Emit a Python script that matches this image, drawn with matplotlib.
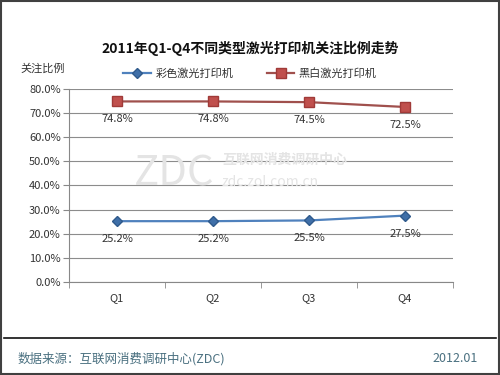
import matplotlib.pyplot as plt
from matplotlib.lines import Line2D
from matplotlib.patches import Rectangle

plt.rcParams['font.family'] = ['Noto Sans CJK SC', 'DejaVu Sans']

quarters = ['Q1', 'Q2', 'Q3', 'Q4']
color_laser = [25.2, 25.2, 25.5, 27.5]
mono_laser = [74.8, 74.8, 74.5, 72.5]
series_names = ['彩色激光打印机', '黑白激光打印机']
yticks = [0, 10, 20, 30, 40, 50, 60, 70, 80]

fig = plt.figure(figsize=(5, 3.75), dpi=100)
ax = fig.add_axes([0.138, 0.248, 0.768, 0.515])

x = range(len(quarters))
ax.plot(x, color_laser, color='#4F81BD', lw=1.6, marker='D', ms=5.5,
        mfc='#3F6FA8', mec='#2F5A8C', label=series_names[0], zorder=3)
ax.plot(x, mono_laser, color='#A0504D', lw=1.6, marker='s', ms=6.5,
        mfc='#C0504D', mec='#A03A38', label=series_names[1], zorder=3)

for xi, v in zip(x, color_laser):
    ax.annotate('%.1f%%' % v, (xi, v), xytext=(0, -13), textcoords='offset points',
                ha='center', va='center', fontsize=8, color='#333333')
for xi, v in zip(x, mono_laser):
    ax.annotate('%.1f%%' % v, (xi, v), xytext=(0, -13), textcoords='offset points',
                ha='center', va='center', fontsize=8, color='#333333')

ax.set_xlim(-0.5, 3.5)
ax.set_ylim(0, 80)
ax.set_yticks(yticks)
ax.set_yticklabels(['%.1f%%' % t for t in yticks], fontsize=8, color='#333333')
ax.set_xticks(list(x))
ax.set_xticklabels(quarters, fontsize=8, color='#333333')
ax.set_xticks([-0.5, 0.5, 1.5, 2.5, 3.5], minor=True)
ax.tick_params(axis='x', which='major', length=0, pad=8)
ax.tick_params(axis='x', which='minor', length=4, color='#888888', direction='out')
ax.tick_params(axis='y', length=4, color='#888888', pad=2)
ax.grid(axis='y', color='#8C8C8C', lw=0.8)
ax.set_axisbelow(True)
for s in ['top', 'right']:
    ax.spines[s].set_visible(False)
for s in ['left', 'bottom']:
    ax.spines[s].set_color('#888888')

# watermark
fig.text(0.268, 0.535, 'ZDC', fontsize=30, color='#E4E4E4', ha='left', va='center',
         fontweight='light', zorder=0)
fig.text(0.444, 0.573, '互联网消费调研中心', fontsize=10, color='#E4E4E4', ha='left', va='center',
         fontweight='bold', zorder=0)
fig.text(0.444, 0.515, 'zdc.zol.com.cn', fontsize=10, color='#E4E4E4', ha='left', va='center',
         zorder=0)

fig.text(0.5, 0.872, '2011年Q1-Q4不同类型激光打印机关注比例走势', ha='center', va='center',
         fontsize=10, fontweight='bold', color='#111111')
fig.text(0.04, 0.818, '关注比例', ha='left', va='center', fontsize=8, color='#333333')

handles = [Line2D([], [], color='#4F81BD', lw=1.6, marker='D', ms=5.5, mfc='#3F6FA8', mec='#2F5A8C'),
           Line2D([], [], color='#A0504D', lw=1.6, marker='s', ms=6.5, mfc='#C0504D', mec='#A03A38')]
fig.legend(handles, series_names, loc='center', bbox_to_anchor=(0.5, 0.805), ncol=2,
           frameon=False, fontsize=8, handlelength=2.5, columnspacing=3, handletextpad=0.4,
           labelcolor='#333333')

# footer
fig.add_artist(Line2D([0.008, 0.992], [0.099, 0.099], color='#111111', lw=1.2))
fig.text(0.036, 0.043, '数据来源：互联网消费调研中心(ZDC)', ha='left', va='center', fontsize=9,
         color='#4A7080')
fig.text(0.956, 0.043, '2012.01', ha='right', va='center', fontsize=9, color='#4A7080')

# outer border
fig.add_artist(Rectangle((0.002, 0.003), 0.996, 0.994, transform=fig.transFigure,
                         fill=False, ec='#404040', lw=1.5))

fig.savefig('out.png', dpi=100)
